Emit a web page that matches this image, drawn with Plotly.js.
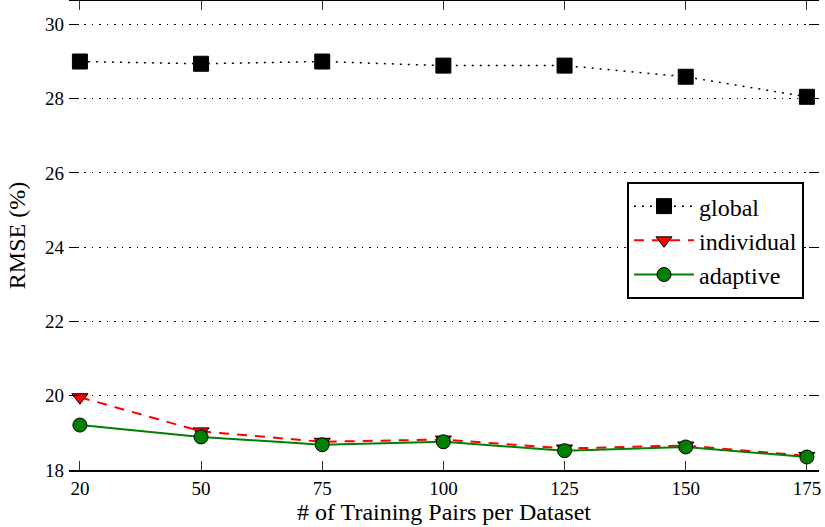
<!DOCTYPE html>
<html><head><meta charset="utf-8">
<script src="https://cdn.plot.ly/plotly-3.0.1.min.js"></script>
<style>body{margin:0;background:#fff}#c{width:825px;height:527px}</style>
</head><body><div id="c"></div>
<script>
const categories = ["20","50","75","100","125","150","175"];
const globalVals = [29.0, 28.94, 29.0, 28.89, 28.89, 28.59, 28.05];
const individualVals = [19.96, 19.04, 18.76, 18.82, 18.58, 18.66, 18.38];
const adaptiveVals = [19.21, 18.89, 18.68, 18.76, 18.52, 18.62, 18.35];
const seriesNames = ["global", "individual", "adaptive"];
const yTicks = [18, 20, 22, 24, 26, 28, 30];

const font = "Liberation Serif, Times New Roman, serif";
const traces = [
  {x: categories, y: globalVals, name: seriesNames[0], mode: "lines+markers",
   line: {color: "black", dash: "2px,6px", width: 1.5},
   marker: {symbol: "square", size: 15, color: "black", line: {color: "black", width: 1}}},
  {x: categories, y: individualVals, name: seriesNames[1], mode: "lines+markers",
   line: {color: "red", dash: "10px,8px", width: 2},
   marker: {symbol: "triangle-down", size: 14, color: "red", line: {color: "black", width: 1}}},
  {x: categories, y: adaptiveVals, name: seriesNames[2], mode: "lines+markers",
   line: {color: "green", width: 2},
   marker: {symbol: "circle", size: 14, color: "green", line: {color: "black", width: 1}}}
];
const layout = {
  width: 825, height: 527,
  margin: {l: 69, r: 6, t: 1, b: 57},
  paper_bgcolor: "white", plot_bgcolor: "white",
  font: {family: font, size: 18, color: "black"},
  showlegend: true,
  legend: {x: 0.744, y: 0.614, xanchor: "left", yanchor: "top",
    bordercolor: "black", borderwidth: 2, bgcolor: "white",
    font: {family: font, size: 24, color: "black"}, itemwidth: 60},
  xaxis: {type: "category", range: [-0.09, 6.1], showgrid: false,
    showline: true, linecolor: "black", linewidth: 2, mirror: "ticks",
    ticks: "inside", ticklen: 9, tickcolor: "#333", tickwidth: 1,
    zeroline: false, tickfont: {family: font, size: 19, color: "black"},
    title: {text: "# of Training Pairs per Dataset", font: {family: font, size: 24, color: "black"}, standoff: 5}},
  yaxis: {range: [18, 30.63], tickvals: yTicks, showgrid: true,
    gridcolor: "black", griddash: "1.5px,6px", gridwidth: 1,
    showline: false, mirror: "ticks", ticks: "inside", ticklen: 10,
    tickcolor: "black", tickwidth: 1, zeroline: false,
    ticklabelstandoff: 4, tickfont: {family: font, size: 19, color: "black"},
    title: {text: "RMSE (%)", font: {family: font, size: 24, color: "black"}, standoff: 12}}
};
Plotly.newPlot("c", traces, layout, {displayModeBar: false, staticPlot: true});
</script></body></html>
